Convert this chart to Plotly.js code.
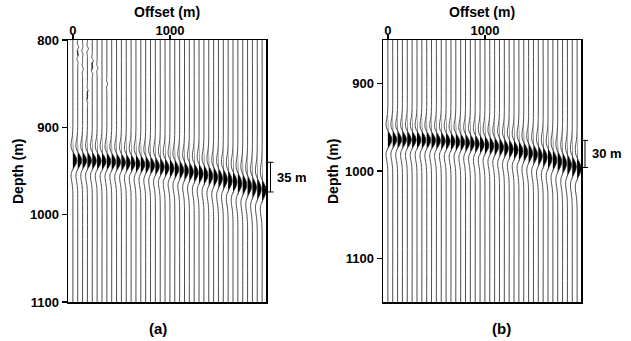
<!DOCTYPE html>
<html>
<head>
<meta charset="utf-8">
<script src="https://cdn.plot.ly/plotly-3.0.1.min.js"></script>
<style>html,body{margin:0;padding:0;background:#fff;}#chart{width:631px;height:341px;}</style>
</head>
<body>
<div id="chart"></div>
<script>
// ---- data ----
const offsets = [0,50,100,150,200,250,300,350,400,450,500,550,600,650,700,750,800,850,900,950,
  1000,1050,1100,1150,1200,1250,1300,1350,1400,1450,1500,1550,1600,1650,1700,1750,1800,1850,1900,1950];
// event (peak) depth per trace, panel (a)
const eventA = [938.0,938.0,938.1,938.2,938.4,938.6,938.9,939.1,939.5,939.8,940.2,940.7,941.2,941.8,942.4,943.0,943.7,944.5,945.3,946.2,
  947.0,948.0,948.9,949.9,951.0,952.2,953.3,954.5,955.8,957.0,958.3,959.7,961.2,962.6,964.2,965.7,967.3,969.0,970.7,972.4];
// event (peak) depth per trace, panel (b)
const eventB = [964.0,964.0,964.1,964.1,964.2,964.3,964.4,964.6,964.8,965.0,965.3,965.6,966.0,966.4,966.8,967.3,967.8,968.4,969.0,969.7,
  970.4,971.2,972.0,972.9,973.9,974.9,976.0,977.2,978.5,979.8,981.2,982.7,984.3,985.9,987.6,989.4,991.3,993.2,995.2,997.2];
// wavelet length stretch per trace (far offsets look longer)
const stretchA = [1.0,1.0,1.0,1.0,1.0,1.0,1.0,1.0,1.0,1.0,1.0,1.01,1.01,1.02,1.02,1.03,1.03,1.04,1.05,1.05,
  1.06,1.07,1.08,1.09,1.1,1.11,1.12,1.13,1.14,1.15,1.16,1.17,1.18,1.19,1.2,1.21,1.22,1.23,1.24,1.25];
const stretchB = [1.0,1.0,1.0,1.0,1.0,1.0,1.0,1.0,1.0,1.0,1.0,1.0,1.01,1.01,1.02,1.02,1.03,1.03,1.04,1.04,
  1.05,1.06,1.06,1.07,1.08,1.09,1.1,1.11,1.12,1.13,1.14,1.15,1.16,1.17,1.18,1.19,1.2,1.21,1.22,1.23];
// wavelet shape: relative depth (m) and normalised amplitude
const waveDepth = [-39,-36,-33,-30,-27,-24,-21,-18,-15,-12,-9,-6,-3,0,3,6,9,12,15,18,21,24,27,30,33,36,39];
const waveAmp   = [0,-0.02,-0.04,-0.09,-0.16,-0.27,-0.38,-0.44,-0.41,-0.21,0.13,0.53,0.87,1.0,0.87,0.53,0.13,-0.21,-0.41,-0.44,-0.38,-0.27,-0.16,-0.09,-0.04,-0.02,0];
// small noise blips near the top of panel (a)
const noiseOffset = [50,100,150,50,200,100,200,250,150,150,350];
const noiseDepth  = [808,812,810,822,824,833,835,832,858,868,850];
const noiseAmp    = [0.25,-0.2,0.25,-0.2,0.25,0.2,-0.25,0.2,0.15,-0.15,0.2];
const yTicksA = [800,900,1000,1100];
const yTicksB = [900,1000,1100];
const xTicks = [0,1000];
const bracketA = {top: 940, bottom: 974, label: "35 m"};
const bracketB = {top: 965, bottom: 996, label: "30 m"};

// ---- layout constants ----
const W = 631, H = 341;
const AMP = 42;
const NOISE_STRETCH = 0.25;
const rangeA = [1100, 800], rangeB = [1150, 850], xRange = [-50, 1990];
const domXA = [68/W, 266/W], domXB = [383/W, 581/W];
const domY = [(H-302)/H, (H-40)/H];
const FAM = "Liberation Sans, Arial, sans-serif";
const TICKFONT = {family: FAM, size: 13, color: "#000", weight: "bold"};
const TITLEFONT = {family: FAM, size: 14, color: "#000", weight: "bold"};

function buildPanel(events, stretch, yr, xa, ya, noise) {
  const lx = [], ly = [], fx = [], fy = [];
  for (let i = 0; i < offsets.length; i++) {
    const off = offsets[i], ev = events[i], s = stretch[i];
    // collect blips on this trace (noise first, they lie above the event)
    const blips = [];
    if (noise) {
      for (let k = 0; k < noiseOffset.length; k++) {
        if (noiseOffset[k] === off) blips.push({d: noiseDepth[k], a: noiseAmp[k], s: NOISE_STRETCH});
      }
    }
    blips.sort((p, q) => p.d - q.d);
    lx.push(off); ly.push(yr[1]);
    blips.forEach(b => {
      for (let j = 0; j < waveDepth.length; j++) {
        lx.push(off + AMP * b.a * waveAmp[j]); ly.push(b.d + b.s * waveDepth[j]);
      }
    });
    for (let j = 0; j < waveDepth.length; j++) {
      const d = ev + s * waveDepth[j];
      lx.push(off + AMP * waveAmp[j]); ly.push(d);
      fx.push(off + AMP * Math.max(0, waveAmp[j])); fy.push(d);
    }
    lx.push(off); ly.push(yr[0]);
    lx.push(null); ly.push(null);
    fx.push(null); fy.push(null);
  }
  return [
    {x: fx, y: fy, xaxis: xa, yaxis: ya, type: "scatter", mode: "lines", fill: "toself",
     fillcolor: "#000", line: {width: 0, color: "#000"}, hoverinfo: "skip", showlegend: false},
    {x: lx, y: ly, xaxis: xa, yaxis: ya, type: "scatter", mode: "lines",
     line: {width: 0.8, color: "#222", shape: "spline", smoothing: 0.6}, hoverinfo: "skip", showlegend: false}
  ];
}

const data = [].concat(buildPanel(eventA, stretchA, rangeA, "x", "y", true),
                       buildPanel(eventB, stretchB, rangeB, "x2", "y2", false));

function yPaper(depth, yr) {
  const frac = (yr[0] - depth) / (yr[0] - yr[1]);
  return domY[0] + frac * (domY[1] - domY[0]);
}

function bracket(b, yr, xpx) {
  const y0 = yPaper(b.top, yr), y1 = yPaper(b.bottom, yr);
  const line = {color: "#000", width: 1};
  return [
    {type: "line", xref: "paper", yref: "paper", x0: xpx/W, x1: xpx/W, y0: y0, y1: y1, line: line},
    {type: "line", xref: "paper", yref: "paper", x0: (xpx-3)/W, x1: (xpx+3)/W, y0: y0, y1: y0, line: line},
    {type: "line", xref: "paper", yref: "paper", x0: (xpx-3)/W, x1: (xpx+3)/W, y0: y1, y1: y1, line: line}
  ];
}

const xAxisCommon = {
  range: xRange, side: "top", tickmode: "array", tickvals: xTicks, ticktext: xTicks.map(String),
  ticks: "outside", ticklen: 4, tickwidth: 1.5, tickcolor: "#000", ticklabelstandoff: -6,
  showline: true, mirror: true, linecolor: "#000", linewidth: 1.5,
  showgrid: false, zeroline: false, tickfont: TICKFONT, fixedrange: true
};
const yAxisCommon = {
  ticks: "outside", ticklen: 5, tickwidth: 1.5, tickcolor: "#000", tickmode: "array",
  showline: true, mirror: true, linecolor: "#000", linewidth: 1.5,
  showgrid: false, zeroline: false, tickfont: TICKFONT, fixedrange: true
};

const ann = (text, xpx, ypx, font, extra) => Object.assign({
  text: text, xref: "paper", yref: "paper", x: xpx/W, y: (H-ypx)/H,
  showarrow: false, font: font, xanchor: "center", yanchor: "middle"
}, extra || {});

const LABELFONT = {family: FAM, size: 15, color: "#000", weight: "bold"};
const BRFONT = {family: FAM, size: 13, color: "#000", weight: "bold"};

const layout = {
  width: W, height: H,
  margin: {l: 0, r: 0, t: 0, b: 0},
  paper_bgcolor: "#fff", plot_bgcolor: "#fff",
  showlegend: false,
  xaxis: Object.assign({}, xAxisCommon, {domain: domXA, anchor: "y"}),
  yaxis: Object.assign({}, yAxisCommon, {domain: domY, anchor: "x", range: rangeA, tickvals: yTicksA}),
  xaxis2: Object.assign({}, xAxisCommon, {domain: domXB, anchor: "y2"}),
  yaxis2: Object.assign({}, yAxisCommon, {domain: domY, anchor: "x2", range: rangeB, tickvals: yTicksB}),
  shapes: [].concat(bracket(bracketA, rangeA, 270.5), bracket(bracketB, rangeB, 585)),
  annotations: [
    ann("Offset (m)", 167, 12, TITLEFONT),
    ann("Offset (m)", 482, 12, TITLEFONT),
    ann("Depth (m)", 18, 172, TITLEFONT, {textangle: -90}),
    ann("Depth (m)", 333, 172, TITLEFONT, {textangle: -90}),
    ann("(a)", 158, 328, LABELFONT),
    ann("(b)", 501, 328, LABELFONT),
    ann(bracketA.label, 275, H - (yPaper((bracketA.top+bracketA.bottom)/2, rangeA))*H, BRFONT, {xanchor: "left"}),
    ann(bracketB.label, 590, H - (yPaper((bracketB.top+bracketB.bottom)/2, rangeB))*H, BRFONT, {xanchor: "left"})
  ]
};

Plotly.newPlot("chart", data, layout, {staticPlot: true, displayModeBar: false});
</script>
</body>
</html>
